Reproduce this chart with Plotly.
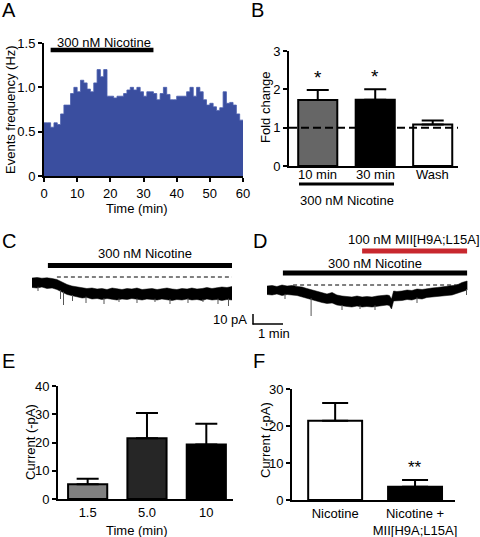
import numpy as np
import plotly.graph_objects as go

W, H = 480, 537
FONT = "Liberation Sans, Arial, sans-serif"
FS = 13

# ---------------- data ----------------
# A: event frequency histogram, 1-min bins
freq_edges_min = list(range(0, 61))
freq_hz = [0.60, 0.60, 0.55, 0.60, 0.58, 0.70, 0.80, 0.80, 0.93, 1.00,
           0.95, 1.08, 1.05, 0.98, 0.95, 1.05, 1.20, 1.12, 1.20, 0.90,
           0.90, 0.88, 0.90, 0.90, 0.93, 0.97, 1.00, 0.97, 1.00, 0.95,
           0.90, 0.95, 0.95, 0.93, 0.86, 0.93, 1.00, 0.92, 0.86, 0.86,
           0.90, 0.90, 0.90, 0.95, 1.00, 0.90, 1.00, 0.95, 0.86, 0.80,
           0.82, 0.78, 0.74, 0.77, 0.95, 0.82, 0.83, 0.80, 0.70, 0.63]
nicotine_A_min = [2, 33]

# B: fold change
b_labels = ["10 min", "30 min", "Wash"]
b_values = [1.72, 1.73, 1.08]
b_errors = [0.26, 0.27, 0.11]
b_colors = ["#666666", "#000000", "#ffffff"]
b_stars = ["*", "*", ""]

# C: current trace (pA relative to baseline) envelope
c_t = [0.00, 0.17, 0.33, 0.50, 0.67, 0.83, 1.00, 1.17, 1.33, 1.50,
       1.67, 1.83, 2.00, 2.17, 2.33, 2.50, 2.67, 2.83, 3.00, 3.17,
       3.33, 3.50, 3.67, 3.83, 4.00, 4.17, 4.33, 4.50, 4.67, 4.83,
       5.00, 5.17, 5.33, 5.50, 5.67, 5.83, 6.00, 6.17, 6.33, 6.50, 6.67]
c_upper = [-1.0, -0.5, -1.2, -0.8, -1.5, -2.5, -5.0, -7.5, -9.0, -10.0,
           -10.5, -11.5, -11.0, -12.0, -11.5, -12.5, -11.0, -12.0, -12.5, -11.5,
           -12.0, -11.0, -12.5, -12.0, -11.5, -12.5, -12.0, -11.0, -12.0, -12.5,
           -11.5, -12.0, -11.0, -12.0, -11.5, -10.5, -11.5, -11.0, -10.0, -10.5, -9.5]
c_lower = [-10.5, -11.0, -10.0, -11.5, -11.0, -12.5, -15.0, -17.5, -19.0, -20.0,
           -21.0, -20.5, -22.0, -21.5, -22.5, -21.5, -22.0, -23.0, -22.0, -22.5,
           -21.5, -22.5, -23.0, -22.0, -22.5, -23.0, -22.0, -22.5, -23.5, -22.5,
           -23.0, -22.0, -23.0, -22.5, -23.5, -22.0, -23.0, -22.5, -23.5, -22.5, -23.0]
c_spike_t = [0.20, 0.95, 1.05, 1.35, 1.80, 2.40, 2.90, 3.50, 4.10, 4.60, 5.20, 5.70, 6.20, 6.55]
c_spike_pa = [-14, -22, -28, -24, -26, -27, -25, -26, -25, -27, -26, -25, -27, -29]
nicotine_C_min = [0.53, 6.67]
baseline_C_min = [0.83, 6.67]

# D: current trace envelope
d_t = [0.00, 0.17, 0.33, 0.50, 0.67, 0.83, 1.00, 1.17, 1.33, 1.50,
       1.67, 1.83, 2.00, 2.17, 2.33, 2.50, 2.67, 2.83, 3.00, 3.17,
       3.33, 3.50, 3.67, 3.83, 4.00, 4.08, 4.15, 4.22, 4.33, 4.50,
       4.67, 4.83, 5.00, 5.17, 5.33, 5.50, 5.67, 5.83, 6.00, 6.17,
       6.33, 6.50, 6.67]
d_upper = [-1.0, -0.5, -1.5, 0.0, -1.0, -0.5, -1.5, -2.0, -3.5, -5.0,
           -6.5, -8.0, -9.0, -7.5, -10.0, -11.0, -11.5, -12.0, -11.0, -12.0,
           -11.5, -12.0, -11.0, -10.5, -10.0, -10.5, -14.0, -6.0, -6.5, -6.0,
           -5.0, -5.5, -4.0, -4.5, -3.5, -3.0, -2.5, -2.0, -1.5, -1.0,
           0.0, 2.5, 4.0]
d_lower = [-9.5, -10.0, -9.0, -10.5, -9.5, -10.0, -10.5, -11.5, -13.0, -14.5,
           -16.0, -17.5, -18.5, -18.0, -20.0, -21.0, -21.5, -22.0, -21.0, -22.0,
           -21.5, -22.0, -21.0, -20.5, -20.0, -20.5, -24.0, -16.0, -16.0, -15.5,
           -14.5, -15.0, -13.5, -14.0, -12.5, -12.0, -11.5, -11.0, -10.5, -10.0,
           -8.5, -6.5, -5.0]
d_spike_t = [0.60, 1.47, 2.50, 3.10, 3.60, 5.00, 6.65]
d_spike_pa = [-14, -31, -25, -24, -25, -18, -10]
nicotine_D_min = [0.53, 6.67]
mii_D_min = [3.17, 6.67]
baseline_D_min = [0.87, 6.67]

# E: current vs time
e_labels = ["1.5", "5.0", "10"]
e_values = [5.2, 21.5, 19.3]
e_errors = [2.0, 8.9, 7.3]
e_colors = ["#808080", "#262626", "#000000"]

# F: current nicotine vs nicotine + MII
f_labels = ["Nicotine", "Nicotine +<br>MII[H9A;L15A]"]
f_values = [21.4, 3.6]
f_errors = [4.8, 1.8]
f_colors = ["#ffffff", "#000000"]


# ---------------- helpers ----------------
def pxx(x):
    return x / W


def pxy(y):
    return 1 - y / H


def dom_x(a, b):
    return [a / W, b / W]


def dom_y(top, bottom):
    return [1 - bottom / H, 1 - top / H]


def axis_style(**kw):
    d = dict(showline=True, linecolor="black", linewidth=2, ticks="outside",
             ticklen=4, tickwidth=2, tickcolor="black", showgrid=False,
             zeroline=False, fixedrange=True, automargin=False,
             tickfont=dict(family=FONT, size=FS, color="black"))
    d.update(kw)
    return d


def hidden_axis(**kw):
    d = dict(visible=False, fixedrange=True, automargin=False)
    d.update(kw)
    return d


annotations = []
shapes = []


def text(x, y, s, size=FS, xanchor="center", angle=0, color="black"):
    annotations.append(dict(x=pxx(x), y=pxy(y), xref="paper", yref="paper",
                            text=s, showarrow=False, xanchor=xanchor,
                            yanchor="middle", textangle=angle,
                            font=dict(family=FONT, size=size, color=color)))


def pline(x0, y0, x1, y1, width=2, color="black"):
    shapes.append(dict(type="line", xref="paper", yref="paper",
                       x0=pxx(x0), y0=pxy(y0), x1=pxx(x1), y1=pxy(y1),
                       line=dict(color=color, width=width)))


fig = go.Figure()

# ---- A ----
fig.add_trace(go.Scatter(x=freq_edges_min, y=freq_hz + [freq_hz[-1]],
                         line_shape="hv", fill="tozeroy", mode="lines",
                         fillcolor="#3a4e9f", line=dict(color="#4a5eae", width=0.8),
                         xaxis="x", yaxis="y", showlegend=False))
fig.add_trace(go.Scatter(x=nicotine_A_min, y=[1.42, 1.42], mode="lines",
                         line=dict(color="black", width=4.5), cliponaxis=False,
                         xaxis="x", yaxis="y", showlegend=False))

# ---- B ----
b_x = list(range(len(b_values)))
fig.add_trace(go.Bar(x=b_x, y=b_values, width=0.68,
                     marker=dict(color=b_colors, line=dict(color="black", width=2)),
                     error_y=dict(type="data", array=b_errors, arrayminus=[0] * 3,
                                  symmetric=False, color="black", thickness=2, width=11),
                     xaxis="x2", yaxis="y2", showlegend=False))
fig.add_trace(go.Scatter(x=[-0.5, 2.44], y=[1, 1], mode="lines",
                         line=dict(color="black", width=2, dash="8px,4px"),
                         cliponaxis=False, xaxis="x2", yaxis="y2", showlegend=False))
for xi, v, e, s in zip(b_x, b_values, b_errors, b_stars):
    if s:
        annotations.append(dict(x=xi, y=v + e + 0.33, xref="x2", yref="y2", text=s,
                                showarrow=False, font=dict(family=FONT, size=19, color="black")))
# category labels of B placed just under the axis
for xi, lab in zip(b_x, b_labels):
    annotations.append(dict(x=xi, y=pxy(175), xref="x2", yref="paper", text=lab,
                            showarrow=False, yanchor="middle",
                            font=dict(family=FONT, size=FS, color="black")))

# ---- C ----
fig.add_trace(go.Scatter(x=c_t + c_t[::-1], y=c_upper + c_lower[::-1], fill="toself",
                         fillcolor="black", mode="lines", line=dict(color="black", width=0.5),
                         xaxis="x3", yaxis="y3", showlegend=False))
sx, sy = [], []
for t, p in zip(c_spike_t, c_spike_pa):
    sx += [t, t, None]
    sy += [float(np.interp(t, c_t, c_lower)) + 1, p, None]
fig.add_trace(go.Scatter(x=sx, y=sy, mode="lines", line=dict(color="#555555", width=1),
                         xaxis="x3", yaxis="y3", showlegend=False))
fig.add_trace(go.Scatter(x=baseline_C_min, y=[0, 0], mode="lines",
                         line=dict(color="black", width=1, dash="4px,3px"),
                         xaxis="x3", yaxis="y3", showlegend=False))
fig.add_trace(go.Scatter(x=nicotine_C_min, y=[11.5, 11.5], mode="lines",
                         line=dict(color="black", width=5), cliponaxis=False,
                         xaxis="x3", yaxis="y3", showlegend=False))

# ---- D ----
fig.add_trace(go.Scatter(x=d_t + d_t[::-1], y=d_upper + d_lower[::-1], fill="toself",
                         fillcolor="black", mode="lines", line=dict(color="black", width=0.5),
                         xaxis="x4", yaxis="y4", showlegend=False))
sx, sy = [], []
for t, p in zip(d_spike_t, d_spike_pa):
    sx += [t, t, None]
    sy += [float(np.interp(t, d_t, d_lower)) + 1, p, None]
fig.add_trace(go.Scatter(x=sx, y=sy, mode="lines", line=dict(color="#555555", width=1),
                         xaxis="x4", yaxis="y4", showlegend=False))
fig.add_trace(go.Scatter(x=baseline_D_min, y=[0, 0], mode="lines",
                         line=dict(color="black", width=1, dash="4px,3px"),
                         xaxis="x4", yaxis="y4", showlegend=False))
fig.add_trace(go.Scatter(x=nicotine_D_min, y=[12, 12], mode="lines",
                         line=dict(color="black", width=5), cliponaxis=False,
                         xaxis="x4", yaxis="y4", showlegend=False))
fig.add_trace(go.Scatter(x=mii_D_min, y=[34, 34], mode="lines",
                         line=dict(color="#c8282e", width=5), cliponaxis=False,
                         xaxis="x4", yaxis="y4", showlegend=False))

# ---- E ----
e_x = list(range(len(e_values)))
fig.add_trace(go.Bar(x=e_x, y=e_values, width=0.66,
                     marker=dict(color=e_colors, line=dict(color="black", width=2)),
                     error_y=dict(type="data", array=e_errors, arrayminus=[0] * 3,
                                  symmetric=False, color="black", thickness=2, width=11),
                     xaxis="x5", yaxis="y5", showlegend=False))

# ---- F ----
f_x = list(range(len(f_values)))
fig.add_trace(go.Bar(x=f_x, y=f_values, width=0.675,
                     marker=dict(color=f_colors, line=dict(color="black", width=2)),
                     error_y=dict(type="data", array=f_errors, arrayminus=[0] * 2,
                                  symmetric=False, color="black", thickness=2, width=13),
                     xaxis="x6", yaxis="y6", showlegend=False))
annotations.append(dict(x=1, y=f_values[1] + f_errors[1] + 3.5, xref="x6", yref="y6",
                        text="**", showarrow=False,
                        font=dict(family=FONT, size=17, color="black")))

# ---------------- text / decorations ----------------
for lab, x, y in [("A", 0, 10), ("B", 249, 10), ("C", 0, 241), ("D", 251, 241),
                  ("E", 0, 361), ("F", 251, 361)]:
    text(x, y, lab, size=20, xanchor="left")

text(104, 42, "300 nM Nicotine")
text(10, 110, "Events frequency (Hz)", angle=-90)
text(137, 208, "Time (min)")
text(265, 107, "Fold change", angle=-90)
pline(299, 184, 394, 184, width=3)
text(347, 200, "300 nM Nicotine")
text(145, 253, "300 nM Nicotine")
text(375, 263, "300 nM Nicotine")
text(414, 240, "100 nM MII[H9A;L15A]")
# scale bar
pline(253, 314, 253, 324.5, width=1.5)
pline(252.5, 324, 283, 324, width=1.5)
text(249, 319, "10 pA", xanchor="right")
text(274, 333, "1 min")
text(30, 442, "Current (-pA)", angle=-90)
text(137, 530, "Time (min)")
text(265, 440, "Current (-pA)", angle=-90)

fig.update_layout(
    width=W, height=H, autosize=False,
    margin=dict(l=0, r=0, t=0, b=0, pad=0, autoexpand=False),
    paper_bgcolor="white", plot_bgcolor="rgba(0,0,0,0)",
    font=dict(family=FONT, size=FS, color="black"),
    annotations=annotations, shapes=shapes,
    xaxis=axis_style(domain=dom_x(44, 243), range=[0, 60], dtick=10, anchor="y"),
    yaxis=axis_style(domain=dom_y(43, 176), range=[0, 1.5], anchor="x",
                     tickvals=[0, 0.5, 1.0, 1.5], ticktext=["0", "0.5", "1.0", "1.5"]),
    xaxis2=axis_style(domain=dom_x(289, 458), range=[-0.5, 2.44], anchor="y2",
                      ticks="", showticklabels=False),
    yaxis2=axis_style(domain=dom_y(51, 166), range=[0, 3], dtick=1, anchor="x2"),
    xaxis3=hidden_axis(domain=dom_x(32, 232), range=[0, 6.667], anchor="y3"),
    yaxis3=hidden_axis(domain=dom_y(240, 330), range=[-53, 37], anchor="x3"),
    xaxis4=hidden_axis(domain=dom_x(267, 468), range=[0, 6.7], anchor="y4"),
    yaxis4=hidden_axis(domain=dom_y(240, 330), range=[-45, 45], anchor="x4"),
    xaxis5=axis_style(domain=dom_x(58, 233), range=[-0.5, 2.45], anchor="y5",
                      ticks="", tickvals=e_x, ticktext=e_labels),
    yaxis5=axis_style(domain=dom_y(386, 499), range=[0, 40], dtick=10, anchor="x5"),
    xaxis6=axis_style(domain=dom_x(292, 455), range=[-0.54, 1.5], anchor="y6",
                      ticks="", tickvals=f_x, ticktext=f_labels),
    yaxis6=axis_style(domain=dom_y(389, 500), range=[0, 30], dtick=10, anchor="x6"),
)

fig.write_html("out.html", config={"displayModeBar": False, "staticPlot": True},
               post_script="document.body.style.margin='0';"
                           "document.body.style.overflow='hidden';")
